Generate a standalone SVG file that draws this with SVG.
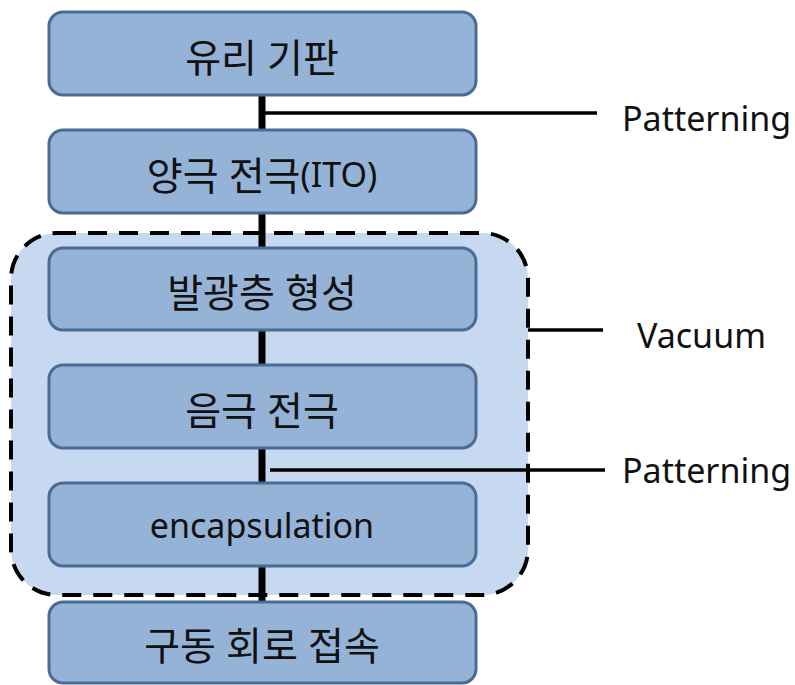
<svg xmlns="http://www.w3.org/2000/svg" width="795" height="685" viewBox="0 0 795 685">
<style>
.box{fill:#95b3d7;stroke:#4a6b94;stroke-width:3}
.lbl{font-family:"Noto Sans","Noto Sans CJK KR",sans-serif;font-size:34px;fill:#111;text-anchor:middle;dominant-baseline:central}
.ko{font-size:39px}
.side{font-family:"Noto Sans","Noto Sans CJK KR",sans-serif;font-size:34px;fill:#111;dominant-baseline:central}
.vc{stroke:#000;stroke-width:7}
.hc{stroke:#000;stroke-width:3.5}
</style>
<rect width="795" height="685" fill="#fff"/>
<g id="vacuum-region">
<rect x="11" y="233" width="517" height="362" rx="46" ry="46" fill="#c6d9f1" stroke="#000" stroke-width="4" stroke-dasharray="19 12"/>
</g>
<g id="connectors">
<line class="vc" x1="262" y1="95" x2="262" y2="130"/>
<line class="vc" x1="262" y1="213" x2="262" y2="248"/>
<line class="vc" x1="262" y1="330" x2="262" y2="365"/>
<line class="vc" x1="262" y1="448" x2="262" y2="483"/>
<line class="vc" x1="262" y1="566" x2="262" y2="602"/>
<line class="hc" x1="262" y1="113" x2="597" y2="113"/>
<line class="hc" x1="528" y1="330" x2="603" y2="330"/>
<line class="hc" x1="270" y1="470" x2="605" y2="470"/>
</g>
<g id="n1"><rect class="box" x="49" y="12" width="427" height="83" rx="14"/><text class="lbl ko" x="262" y="56">유리 기판</text></g>
<g id="n2"><rect class="box" x="49" y="130" width="427" height="83" rx="14"/><text class="lbl" x="262" y="174"><tspan class="ko">양극 전극</tspan>(ITO)</text></g>
<g id="n3"><rect class="box" x="49" y="248" width="427" height="82" rx="14"/><text class="lbl ko" x="262" y="291">발광층 형성</text></g>
<g id="n4"><rect class="box" x="49" y="365" width="427" height="83" rx="14"/><text class="lbl ko" x="262" y="409">음극 전극</text></g>
<g id="n5"><rect class="box" x="49" y="483" width="427" height="83" rx="14"/><text class="lbl" x="262" y="525">encapsulation</text></g>
<g id="n6"><rect class="box" x="49" y="602" width="427" height="81" rx="14"/><text class="lbl ko" x="262" y="644">구동 회로 접속</text></g>
<g id="side-labels">
<text class="side" x="622" y="118">Patterning</text>
<text class="side" x="637" y="335">Vacuum</text>
<text class="side" x="622" y="470">Patterning</text>
</g>
</svg>
